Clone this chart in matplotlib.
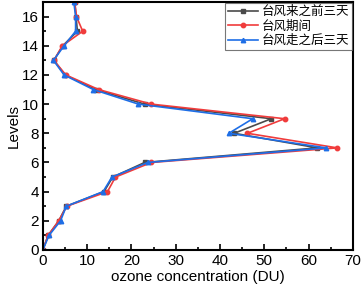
import numpy as np
import matplotlib.pyplot as plt
from matplotlib.ticker import MultipleLocator

plt.rcParams['font.family'] = ['Liberation Sans', 'Noto Sans CJK SC', 'DejaVu Sans']

levels = np.arange(0, 18)
before = [0, 1.2, 3.6, 5.3, 13.8, 15.8, 23.0, 62.0, 43.2, 51.6, 23.0, 12.0, 5.0, 2.5, 4.5, 7.8, 7.5, 7.2]
during = [0, 1.2, 3.6, 5.4, 14.6, 16.4, 24.5, 66.5, 46.2, 54.6, 24.5, 12.6, 5.2, 2.5, 4.4, 9.0, 7.6, 7.2]
after = [0, 1.4, 4.0, 5.3, 13.6, 15.6, 23.7, 64.0, 42.0, 47.4, 21.6, 11.4, 4.8, 2.4, 4.8, 7.4, 7.4, 7.0]
names = ['台风来之前三天', '台风期间', '台风走之后三天']

fig = plt.figure(figsize=(3.63, 2.9), dpi=100)
ax = fig.add_axes([0.118, 0.138, 0.854, 0.855])

ax.plot(before, levels, '-s', color='#4a4a4a', lw=1.2, ms=3, label=names[0])
ax.plot(during, levels, '-o', color='#f03c3c', lw=1.2, ms=3.2, label=names[1])
ax.plot(after, levels, '-^', color='#1e6ee6', lw=1.2, ms=3.2, label=names[2])

ax.set_xlim(0, 70)
ax.set_ylim(0, 17)
ax.xaxis.set_major_locator(MultipleLocator(10))
ax.xaxis.set_minor_locator(MultipleLocator(5))
ax.yaxis.set_major_locator(MultipleLocator(2))
ax.yaxis.set_minor_locator(MultipleLocator(1))
ax.tick_params(which='both', direction='in', labelsize=11, width=1.2)
ax.tick_params(which='major', length=4, pad=3)
ax.tick_params(which='minor', length=2.5)
for s in ax.spines.values():
    s.set_linewidth(1.5)

ax.set_xlabel('ozone concentration (DU)', fontsize=11, labelpad=1)
ax.set_ylabel('Levels', fontsize=11, labelpad=1)

leg = ax.legend(loc='upper right', fontsize=9, frameon=True, fancybox=False,
                edgecolor='#555555', borderpad=0.2, handlelength=2.4,
                handletextpad=0.3, labelspacing=0.2, borderaxespad=0.1)
leg.get_frame().set_linewidth(0.8)

fig.savefig('out.png', dpi=100)
